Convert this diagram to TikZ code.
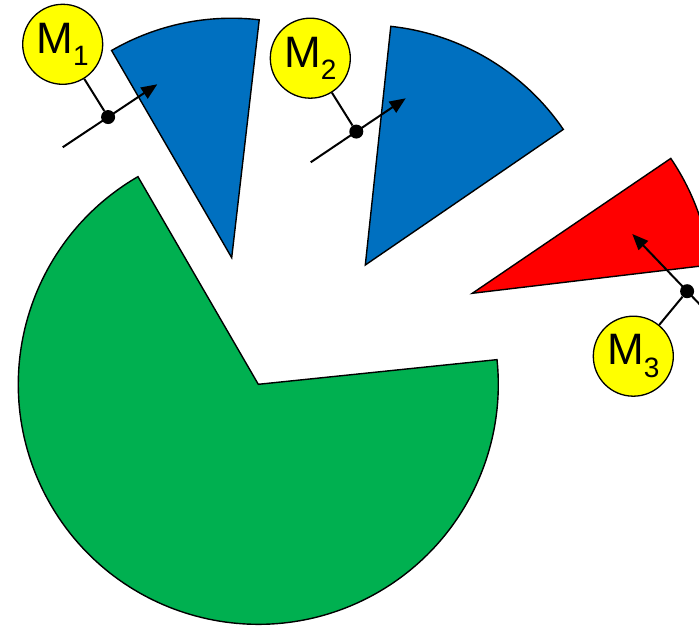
\documentclass[tikz,border=0pt]{standalone}
\usepackage{fontspec}
\setmainfont{Liberation Sans}
\usetikzlibrary{arrows.meta,calc}

\definecolor{piegreen}{HTML}{00B050}
\definecolor{pieblue}{HTML}{0070C0}
\definecolor{piered}{HTML}{FF0000}
\definecolor{markyellow}{HTML}{FFFF00}

\newcommand{\mname}[1]{M\raisebox{-12.5pt}{\fontsize{28}{28}\selectfont #1}}

\tikzset{
    slice/.style={draw=black,line width=1.4pt,line join=miter},
    marker/.style={circle,draw=black,line width=1.3pt,fill=markyellow,
        minimum size=80pt,inner sep=0pt,font=\fontsize{44}{48}\selectfont},
    pointer/.style={line width=2pt,-{Triangle[length=16pt,width=13pt]}},
    joint/.style={circle,fill=black,minimum size=14pt,inner sep=0pt},
    stem/.style={line width=2pt}
}

\begin{document}
\begin{tikzpicture}[x=1pt,y=1pt]
    \useasboundingbox (0,0) rectangle (699,625);
    \clip (0,0) rectangle (699,625);

    % Pie slices
    \fill[piegreen,slice] (258.3,240.7) -- ++(120.1:240) arc (120.1:365.9:240) -- cycle;
    \fill[pieblue,slice] (231.7,367.3) -- ++(83.4:239.5) arc (83.4:120.1:239.5) -- cycle;
    \fill[pieblue,slice] (365.3,360) -- ++(34.4:240) arc (34.4:83.9:240) -- cycle;
    \fill[piered,slice] (472.3,331.7) -- ++(6.8:240) arc (6.8:34.2:240) -- cycle;

    % Markers
    \node[marker] (m1) at (62.7,580.7) {\mname{1}};
    \node[marker] (m2) at (310.3,566.8) {\mname{2}};
    \node[marker] (m3) at (633.3,268.8) {\mname{3}};

    % Pointer arrows
    \coordinate (t1) at (62.7,477.7);
    \coordinate (h1) at (157.3,540.7);
    \coordinate (t2) at (310.7,462.7);
    \coordinate (h2) at (405.7,526.7);
    \coordinate (t3) at (737.7,281);
    \coordinate (h3) at (632.3,391);
    \foreach \i in {1,2,3} {
        \draw[pointer] (t\i) -- (h\i);
        \node[joint] (d\i) at ($(t\i)!0.48!(h\i)$) {};
        \draw[stem] (d\i) -- (m\i);
    }
\end{tikzpicture}
\end{document}
